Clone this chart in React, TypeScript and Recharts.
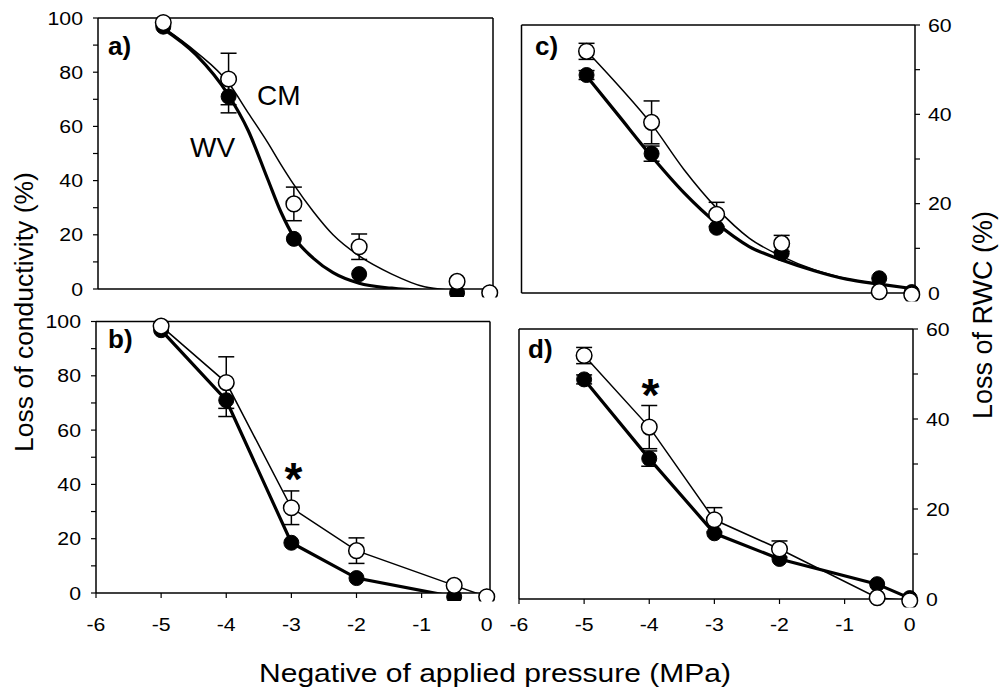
import React from 'react';
import { ErrorBar, Line, LineChart, ReferenceLine, XAxis, YAxis } from 'recharts';

const FONT = '"Liberation Sans", Arial, Helvetica, sans-serif';

// applied pressures where samples were taken (MPa)
const pressures = [-5, -4, -3, -2, -0.5, 0];

// loss of conductivity (%) - panels a and b
const condWV = [96.8, 71, 18.5, 5.5, -1.4, -1.4];
const condWVErr = [0, 6, 0, 0, 0, 0];
const condCM = [98.3, 77.5, 31.4, 15.6, 2.8, -1.4];
const condCMErr = [0, 9.5, 6.2, 4.7, 0, 0];

// loss of RWC (%) - panels c and d
const rwcWV = [48.8, 31.2, 14.6, 8.9, 3.3, 0.2];
const rwcWVErr = [1, 1.7, 0, 0, 0, 0];
const rwcCM = [54.1, 38.2, 17.6, 11.1, 0.3, -0.4];
const rwcCMErr = [1.8, 4.8, 2.7, 1.8, 0, 0];

// fitted curves
const condFitX = [-5, -4.5, -4, -3.7, -3.4, -3.2, -3, -2.7, -2.4, -2, -1.5, -1, -0.5, 0];
const condFitWV = [96, 86.5, 71.5, 58.5, 40.5, 28.5, 19.2, 11.3, 6, 2.1, 0.3, -0.6, -1, -1.2];
const condFitCM = [96.5, 87.5, 76, 65, 54, 46, 38.5, 28.5, 20, 12.2, 5.5, 0.8, -0.6, -1.2];

// fitted curves
const rwcFitX = [-5, -4.5, -4, -3.5, -3, -2.5, -2, -1.5, -1, -0.5, 0];
const rwcFitWV = [48.6, 39.6, 30.6, 22.4, 15.6, 10.4, 7.4, 5.0, 3.1, 2.0, 1.0];
const rwcFitCM = [54.2, 46.3, 37.8, 27.6, 19, 12.3, 8.2, 5.2, 3.2, 2.0, 1.0];

const xTicks = [-6, -5, -4, -3, -2, -1, 0];
const condTicks = [0, 10, 20, 30, 40, 50, 60, 70, 80, 90, 100];
const rwcTicks = [0, 10, 20, 30, 40, 50, 60];

const toRows = (ys: number[], errs: number[]) => pressures.map((x, i) => ({ x, y: ys[i], e: errs[i] }));
const toFit = (xs: number[], ys: number[]) => xs.map((x, i) => ({ x, y: ys[i] }));

// tick label renderer: only labels values that are multiples of `step`
function makeTick(step: number, dy: string) {
  return (props: any) => {
    const { x, y, payload, textAnchor } = props;
    if (Math.abs(payload.value % step) > 1e-9) return <g />;
    return (
      <text
        transform={`translate(${x} ${y}) scale(1.12 1)`}
        textAnchor={textAnchor}
        dy={dy}
        fontSize={19}
        fontFamily={FONT}
        fill="#000"
      >
        {payload.value}
      </text>
    );
  };
}

const yTick = makeTick(20, '0.35em');
const xTick = makeTick(1, '0.71em');

const axisLine = { stroke: '#000', strokeWidth: 1.5 };
const tickLine = { stroke: '#000', strokeWidth: 1.2 };

const filledDot = { r: 7.5, fill: '#000', stroke: '#000', strokeWidth: 1, clipDot: false };
const openDot = { r: 7.8, fill: '#fff', stroke: '#000', strokeWidth: 1.5, clipDot: false };

interface PanelProps {
  left: number;
  top: number;
  width: number;
  height: number;
  marginTop: number;
  leftW: number;
  rightW: number;
  bottomH: number;
  xLabels: boolean;
  xTickMargin: number;
  valueSide: 'left' | 'right';
  yMax: number;
  yTicks: number[];
  wv: number[];
  wvErr: number[];
  cm: number[];
  cmErr: number[];
  fit?: { x: number[]; wv: number[]; cm: number[] };
}

function Panel(p: PanelProps) {
  const other = p.valueSide === 'left' ? 'right' : 'left';
  const wvRows = toRows(p.wv, p.wvErr);
  const cmRows = toRows(p.cm, p.cmErr);
  const joined = !p.fit;

  return (
    <div style={{ position: 'absolute', left: p.left, top: p.top }}>
      <LineChart width={p.width} height={p.height} margin={{ top: p.marginTop, right: 0, bottom: 0, left: 0 }}>
        <XAxis
          dataKey="x"
          type="number"
          domain={[-6, 0.05]}
          allowDataOverflow
          ticks={xTicks}
          interval={0}
          height={p.bottomH}
          tickSize={5}
          tickMargin={p.xTickMargin}
          axisLine={axisLine}
          tickLine={tickLine}
          tick={p.xLabels ? xTick : false}
        />
        <YAxis
          yAxisId="v"
          orientation={p.valueSide}
          type="number"
          domain={[0, p.yMax]}
          allowDataOverflow
          ticks={p.yTicks}
          interval={0}
          width={p.valueSide === 'left' ? p.leftW : p.rightW}
          tickSize={5}
          tickMargin={p.valueSide === 'left' ? 10 : 8}
          axisLine={axisLine}
          tickLine={tickLine}
          tick={yTick}
        />
        <YAxis
          yAxisId="o"
          orientation={other}
          type="number"
          domain={[0, p.yMax]}
          allowDataOverflow
          ticks={p.yTicks}
          interval={0}
          width={p.valueSide === 'left' ? p.rightW : p.leftW}
          tickSize={4}
          axisLine={axisLine}
          tickLine={tickLine}
          tick={false}
        />
        {/* top edge of the frame */}
        <ReferenceLine yAxisId="v" y={p.yMax} stroke="#000" strokeWidth={1.5} />
        {p.fit && (
          <Line
            yAxisId="v"
            data={toFit(p.fit.x, p.fit.wv)}
            dataKey="y"
            type="monotone"
            stroke="#000"
            strokeWidth={3.2}
            dot={false}
            activeDot={false}
            isAnimationActive={false}
          />
        )}
        {p.fit && (
          <Line
            yAxisId="v"
            data={toFit(p.fit.x, p.fit.cm)}
            dataKey="y"
            type="monotone"
            stroke="#000"
            strokeWidth={1.5}
            dot={false}
            activeDot={false}
            isAnimationActive={false}
          />
        )}
        <Line
          yAxisId="v"
          data={wvRows}
          dataKey="y"
          type="linear"
          stroke={joined ? '#000' : 'none'}
          strokeWidth={3.2}
          dot={filledDot}
          activeDot={false}
          isAnimationActive={false}
        >
          <ErrorBar dataKey="e" direction="y" width={8} stroke="#000" strokeWidth={1.5} />
        </Line>
        <Line
          yAxisId="v"
          data={cmRows}
          dataKey="y"
          type="linear"
          stroke={joined ? '#000' : 'none'}
          strokeWidth={1.5}
          dot={openDot}
          activeDot={false}
          isAnimationActive={false}
        >
          <ErrorBar dataKey="e" direction="y" width={8} stroke="#000" strokeWidth={1.5} />
        </Line>
      </LineChart>
    </div>
  );
}

export default function App() {
  return (
    <div style={{ position: 'absolute', left: 0, top: 0, width: 999, height: 688, background: '#fff', fontFamily: FONT }}>
      {/* a) conductivity, fitted */}
      <Panel
        left={0} top={0} width={501} height={299} marginTop={18} leftW={98} rightW={8} bottomH={10}
        xLabels={false} xTickMargin={0} valueSide="left" yMax={100} yTicks={condTicks}
        wv={condWV} wvErr={condWVErr} cm={condCM} cmErr={condCMErr}
        fit={{ x: condFitX, wv: condFitWV, cm: condFitCM }}
      />
      {/* b) conductivity, joined */}
      <Panel
        left={0} top={300} width={498} height={338} marginTop={21.5} leftW={96} rightW={8} bottomH={45}
        xLabels xTickMargin={20} valueSide="left" yMax={100} yTicks={condTicks}
        wv={condWV} wvErr={condWVErr} cm={condCM} cmErr={condCMErr}
      />
      {/* c) RWC, fitted */}
      <Panel
        left={510} top={0} width={465} height={303} marginTop={25} leftW={11.5} rightW={60} bottomH={10}
        xLabels={false} xTickMargin={0} valueSide="right" yMax={60} yTicks={rwcTicks}
        wv={rwcWV} wvErr={rwcWVErr} cm={rwcCM} cmErr={rwcCMErr}
        fit={{ x: rwcFitX, wv: rwcFitWV, cm: rwcFitCM }}
      />
      {/* d) RWC, joined */}
      <Panel
        left={510} top={300} width={463} height={344} marginTop={29} leftW={9} rightW={60} bottomH={45}
        xLabels xTickMargin={14} valueSide="right" yMax={60} yTicks={rwcTicks}
        wv={rwcWV} wvErr={rwcWVErr} cm={rwcCM} cmErr={rwcCMErr}
      />

      <svg width={999} height={688} style={{ position: 'absolute', left: 0, top: 0, pointerEvents: 'none' }} fontFamily={FONT}>
        <text x={108} y={55} fontSize={26} fontWeight="bold">a)</text>
        <text x={108} y={348} fontSize={26} fontWeight="bold">b)</text>
        <text x={535} y={55} fontSize={26} fontWeight="bold">c)</text>
        <text x={528} y={358} fontSize={26} fontWeight="bold">d)</text>
        <text x={257} y={105} fontSize={28}>CM</text>
        <text x={190} y={157} fontSize={28}>WV</text>
        <text x={293.5} y={495} fontSize={46} fontWeight="bold" textAnchor="middle">*</text>
        <text x={650.5} y={411} fontSize={46} fontWeight="bold" textAnchor="middle">*</text>
        <text transform="translate(33 312) rotate(-90)" fontSize={26.5} textAnchor="middle">Loss of conductivity (%)</text>
        <text transform="translate(992 315) rotate(-90)" fontSize={27} textAnchor="middle">Loss of RWC (%)</text>
        <text transform="translate(495 682) scale(1.2 1)" fontSize={25} textAnchor="middle">Negative of applied pressure (MPa)</text>
      </svg>
    </div>
  );
}
